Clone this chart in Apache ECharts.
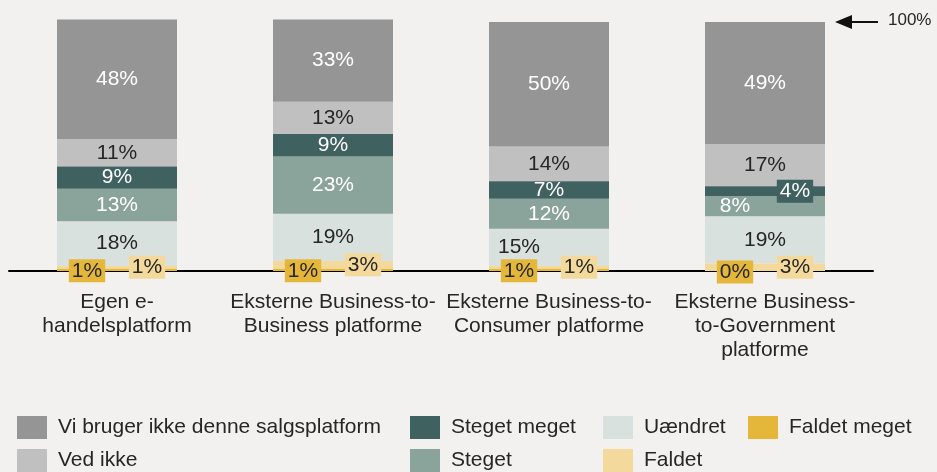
<!DOCTYPE html>
<html>
<head>
<meta charset="utf-8">
<script src="https://cdn.jsdelivr.net/npm/echarts@6/dist/echarts.min.js"></script>
<style>
html,body{margin:0;padding:0;background:#f2f1ef;}
#main{width:937px;height:472px;}
</style>
</head>
<body>
<div id="main"></div>
<script>
const categories = ['Egen e-\nhandelsplatform', 'Eksterne Business-to-\nBusiness platforme', 'Eksterne Business-to-\nConsumer platforme', 'Eksterne Business-\nto-Government\nplatforme'];
const faldetMeget = [1, 1, 1, 0];
const faldet = [1, 3, 1, 3];
const uaendret = [18, 19, 15, 19];
const steget = [13, 23, 12, 8];
const stegetMeget = [9, 9, 7, 4];
const vedIkke = [11, 13, 14, 17];
const viBrugerIkke = [48, 33, 50, 49];
const topValue = 100;
const topLabel = '100%';

const FONT = 'Liberation Sans, Arial, sans-serif';
const FS = 21;
const C = {
  vi: '#959595', ved: '#c0c0c0', sm: '#3f615f', st: '#8aa39b', ua: '#d9e1df', fm: '#e4b73a', fa: '#f3da9c'
};
const dark = '#262626';

function baseLabel(color) {
  return { show: true, position: 'inside', formatter: '{c}%', color: color, fontFamily: FONT, fontSize: FS };
}
function mk(name, data, color, label, perItem, extra) {
  return Object.assign({
    name: name, type: 'bar', stack: 'total', barWidth: 120,
    itemStyle: { color: color },
    label: label,
    data: data.map((v, i) => perItem && perItem[i] ? { value: v, label: perItem[i] } : v),
    clip: false
  }, extra || {});
}
const boxFM = Object.assign(baseLabel(dark), { offset: [-30, 1], backgroundColor: C.fm, padding: [2, 3, 0, 3] });
const boxFA = Object.assign(baseLabel(dark), { offset: [30, 0], backgroundColor: C.fa, padding: [2, 3, 0, 3] });

const series = [
  mk('Faldet meget', faldetMeget, C.fm, boxFM, null, { z: 5 }),
  mk('Faldet', faldet, C.fa, boxFA, null, { z: 5 }),
  mk('Uændret', uaendret, C.ua, baseLabel(dark), [null, null, { offset: [-30, 0] }, null]),
  mk('Steget', steget, C.st, baseLabel('#ffffff'), [null, null, null, { offset: [-30, 0] }]),
  mk('Steget meget', stegetMeget, C.sm, baseLabel('#ffffff'), [null, null, null, { offset: [30, 0], backgroundColor: C.sm, padding: [2, 3, 0, 3] }], { z: 4 }),
  mk('Ved ikke', vedIkke, C.ved, baseLabel(dark)),
  mk('Vi bruger ikke denne salgsplatform', viBrugerIkke, C.vi, baseLabel('#ffffff'))
];

function legend(left, top, name) {
  return {
    left: left, top: top, orient: 'horizontal', itemWidth: 30, itemHeight: 23, padding: 0,
    icon: 'rect', data: [name], selectedMode: false,
    textStyle: { color: dark, fontFamily: FONT, fontSize: FS, padding: [0, 0, 0, 6] }
  };
}

const chart = echarts.init(document.getElementById('main'), null, { renderer: 'canvas' });
chart.setOption({
  backgroundColor: '#f2f1ef',
  animation: false,
  grid: { left: 9, right: 64, top: 22, bottom: 201 },
  xAxis: {
    type: 'category', data: categories,
    axisLine: { lineStyle: { color: '#000', width: 2 } },
    axisTick: { show: false },
    axisLabel: { color: dark, fontFamily: FONT, fontSize: FS, lineHeight: 24, margin: 19, interval: 0 }
  },
  yAxis: { type: 'value', min: 0, max: topValue, show: false },
  legend: [
    legend(17, 416, 'Vi bruger ikke denne salgsplatform'),
    legend(17, 449, 'Ved ikke'),
    legend(410, 416, 'Steget meget'),
    legend(410, 449, 'Steget'),
    legend(603, 416, 'Uændret'),
    legend(603, 449, 'Faldet'),
    legend(748, 416, 'Faldet meget')
  ],
  series: series
});

const yTop = chart.convertToPixel({ yAxisIndex: 0 }, topValue);
chart.setOption({
  graphic: [
    { type: 'line', shape: { x1: 848, y1: yTop, x2: 878, y2: yTop }, style: { stroke: '#111', lineWidth: 2 } },
    { type: 'polygon', shape: { points: [[835, yTop], [852, yTop - 7], [852, yTop + 7]] }, style: { fill: '#111' } },
    { type: 'text', left: 888, top: yTop - 10, style: { text: topLabel, font: '17px Liberation Sans, Arial, sans-serif', fill: dark } }
  ]
});
</script>
</body>
</html>
